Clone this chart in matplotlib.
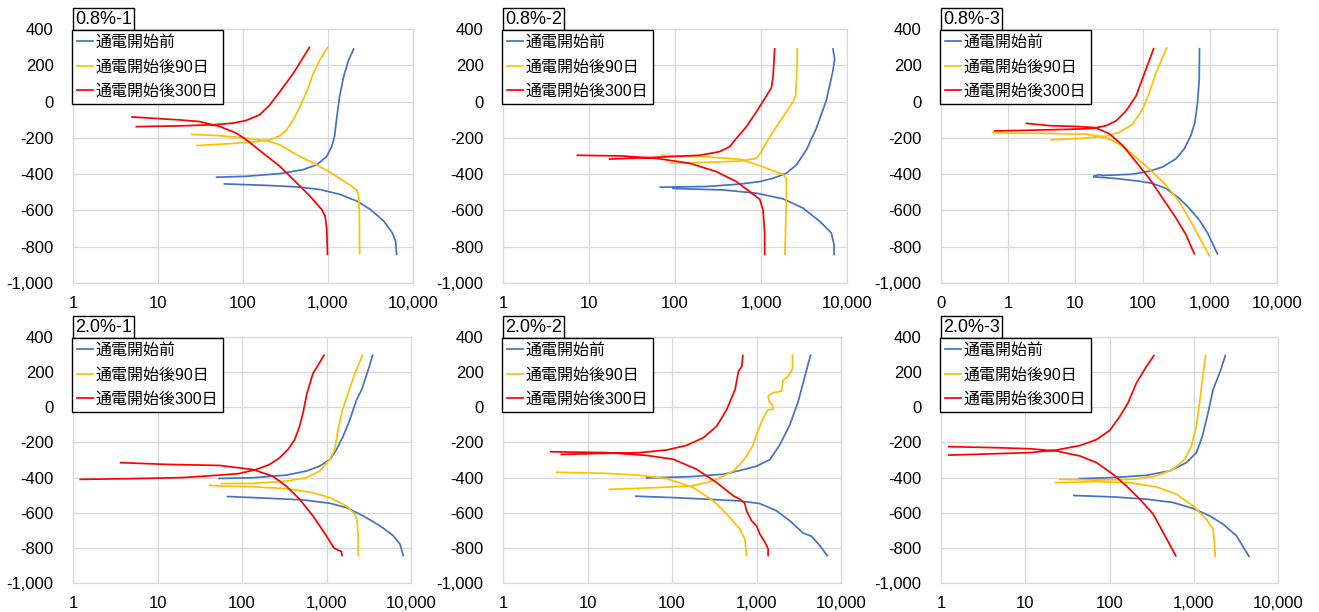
import numpy as np
import matplotlib
matplotlib.use("Agg")
import matplotlib.pyplot as plt
from matplotlib.ticker import FuncFormatter, FixedLocator, NullLocator
from matplotlib.lines import Line2D

plt.rcParams['font.family'] = ['Liberation Sans', 'Noto Sans CJK JP', 'DejaVu Sans']

NAN = np.nan
series_names = ["通電開始前", "通電開始後90日", "通電開始後300日"]
series_colors = ["#4472C4", "#FFC000", "#FF0000"]
panel_titles = ["0.8%-1", "0.8%-2", "0.8%-3", "2.0%-1", "2.0%-2", "2.0%-3"]
y_ticks = [-1000, -800, -600, -400, -200, 0, 200, 400]

# ---- Panel 0.8%-1 ----  (current density, potential mV); NaN separates cathodic / anodic branches
p1_before_i = [6412, 6237, 5693, 4539, 3155, 2194, 1393, 807, 428, 172, 60.7, NAN,
               49, 109, 272, 513, 738, 968, 1110, 1193, 1273, 1368, 1525, 1749, 2004]
p1_before_e = [-842, -769, -723, -659, -595, -549, -512, -485, -470, -461, -454, NAN,
               -417, -412, -397, -375, -348, -302, -247, -192, -82, 27, 137, 229, 289]
p1_d90_i = [2356, 2339, 2296, 2194, 1914, 1393, 968, 674, 428, 272, 189, 109, 53, 24.9, NAN,
            28.6, 69.5, 144, 207, 272, 326, 391, 469, 562, 674, 807, 986]
p1_d90_e = [-836, -631, -522, -489, -467, -426, -379, -339, -293, -238, -216, -201, -188, -181, NAN,
            -242, -232, -221, -210, -188, -156, -101, -27, 55, 156, 232, 298]
p1_d300_i = [986, 968, 925, 845, 615, 428, 272, 172, 109, 83.4, 53, 30.7, 17.8, 10.4, 4.94, NAN,
             5.56, 17.8, 44.2, 76.2, 109, 157, 207, 272, 391, 604]
p1_d300_e = [-842, -705, -631, -595, -522, -448, -357, -284, -210, -174, -137, -110, -101, -94, -85, NAN,
             -138, -134, -128, -119, -104, -73, -18, 55, 156, 298]

# ---- Panel 0.8%-2 ----
p2_before_i = [7058, 7058, 6574, 4808, 3076, 1803, 883, 361, 94.8, NAN,
               67.5, 231, 565, 965, 1380, 1972, 2577, 3365, 4396, 5750, 6873, 7190, 6873]
p2_before_e = [-843, -788, -724, -660, -587, -536, -505, -487, -479, NAN,
               -472, -468, -455, -441, -423, -395, -349, -267, -148, 7, 171, 235, 290]
p2_d90_i = [1900, 1972, 1972, 1803, 1380, 965, 565, 231, 69.4, NAN,
            88.3, 231, 565, 883, 1009, 1206, 1380, 1803, 2355, 2530, 2624, 2640]
p2_d90_e = [-843, -541, -423, -401, -381, -353, -318, -304, -296, NAN,
            -340, -335, -328, -313, -276, -212, -167, -84, -2, 34, 190, 290]
p2_d300_i = [1104, 1104, 1055, 965, 738, 517, 302, 148, 60.7, 24.8, 7.32, NAN,
             17.4, 60.7, 194, 330, 432, 517, 675, 883, 1104, 1320, 1380, 1443]
p2_d300_e = [-843, -724, -596, -538, -496, -441, -386, -340, -313, -300, -296, NAN,
             -317, -307, -296, -276, -249, -203, -139, -57, 16, 76, 135, 290]

# ---- Panel 0.8%-3 ----
p3_before_i = [1300, 925, 696, 494, 351, 223, 141, 89.7, 40.4, 18.9, NAN,
               18.9, 22.9, 25, 32.2, 71.4, 126, 199, 314, 417, 523, 600, 657, 696, 703]
p3_before_e = [-839, -724, -652, -588, -533, -479, -451, -439, -424, -415, NAN,
               -411, -402, -407, -406, -400, -384, -360, -315, -260, -187, -115, -5, 122, 291]
p3_d90_i = [979, 554, 351, 223, 141, 89.7, 56.9, 36.1, 22.9, 14.6, 3.71, 0.6, NAN,
            4.39, 12.9, 28.7, 45.3, 71.4, 100, 126, 158, 228]
p3_d90_e = [-848, -679, -551, -460, -388, -324, -260, -215, -191, -180, -176, -173, NAN,
            -211, -202, -191, -169, -124, -42, 49, 158, 295]
p3_d300_i = [587, 441, 314, 199, 126, 80, 50.7, 32.2, 20.4, 14.6, 3.71, 0.63, NAN,
             1.87, 4.15, 10.3, 20.4, 28.7, 40.4, 56.9, 80, 112, 146]
p3_d300_e = [-839, -733, -642, -533, -424, -333, -242, -178, -146, -150, -156, -162, NAN,
             -120, -133, -137, -144, -133, -106, -51, 31, 177, 291]

# ---- Panel 2.0%-1 ----
p4_before_i = [8110, 7396, 6166, 4285, 2717, 1722, 1091, 526, 211, 67.6, NAN,
               53.9, 134, 333, 576, 829, 1091, 1310, 1571, 1885, 2262, 2593, 2974, 3200, 3506]
p4_before_e = [-844, -778, -731, -674, -618, -571, -546, -527, -518, -508, NAN,
               -405, -401, -386, -363, -335, -298, -241, -166, -72, 41, 98, 183, 230, 296]
p4_d90_i = [2380, 2368, 2303, 2161, 1722, 1091, 691, 333, 134, 53.9, 41.6, NAN,
            57.1, 134, 333, 576, 829, 1091, 1250, 1370, 1543, 1800, 2161, 2666]
p4_d90_e = [-844, -731, -646, -608, -561, -514, -486, -463, -452, -448, -444, NAN,
            -434, -433, -420, -401, -363, -298, -241, -128, -15, 79, 192, 296]
p4_d300_i = [1527, 1500, 1228, 995, 691, 480, 333, 231, 134, 53.9, 12.7, 3.67, NAN,
             1.22, 5.13, 20.1, 53.9, 93, 147, 211, 278, 349, 419, 480, 526, 587, 691, 934]
p4_d300_e = [-844, -821, -802, -731, -618, -523, -448, -392, -354, -331, -325, -315, NAN,
             -410, -406, -400, -386, -377, -354, -326, -288, -241, -185, -109, -34, 79, 192, 296]

# ---- Panel 2.0%-2 ----
p5_before_i = [6860, 5623, 4477, 3561, 2479, 1724, 1095, 635, 258, 104, 37.4, NAN,
               50.1, 163, 406, 635, 1000, 1439, 1889, 2479, 3110, 3908, 4357]
p5_before_e = [-844, -787, -734, -716, -646, -589, -548, -533, -523, -514, -506, NAN,
               -402, -395, -381, -360, -335, -298, -213, -100, 32, 211, 296]
p5_d90_i = [762, 727, 635, 445, 309, 179, 86.4, 41.8, 16.8, 4.29, NAN,
            18.1, 65.8, 163, 258, 371, 534, 635, 762, 914, 982, 1095, 1198, 1290, 1373,
            1574, 1546, 1412, 1373, 1574, 1977, 2033, 2070, 2373, 2549, 2667, 2667]
p5_d90_e = [-844, -749, -693, -608, -533, -457, -406, -387, -376, -370, NAN,
            -467, -457, -448, -429, -400, -362, -326, -279, -213, -166, -109, -62, -34, -15,
            -11, 13, 32, 64, 83, 92, 126, 154, 177, 201, 220, 296]
p5_d300_i = [1373, 1373, 1255, 1095, 1000, 873, 762, 727, 635, 534, 339, 196, 104, 50.1, 16.8, 3.67, NAN,
             4.92, 16.8, 41.8, 86.4, 149, 235, 339, 445, 558, 612, 670, 689]
p5_d300_e = [-844, -806, -768, -721, -674, -646, -589, -546, -523, -504, -429, -353, -296, -274, -258, -253, NAN,
             -268, -262, -258, -243, -217, -173, -107, -12, 101, 205, 233, 294]

# ---- Panel 2.0%-3 ----
p6_before_i = [4529, 3206, 2228, 1549, 982, 569, 275, 110, 37.8, NAN,
               43.7, 110, 275, 519, 818, 1076, 1267, 1479, 1695, 2033, 2373]
p6_before_e = [-849, -731, -665, -618, -576, -542, -523, -510, -502, NAN,
               -406, -400, -387, -362, -315, -258, -164, -31, 101, 196, 294]
p6_d90_i = [1800, 1742, 1695, 1413, 982, 623, 361, 174, 70.1, 22.9, NAN,
            25.8, 70.1, 191, 361, 569, 782, 938, 1076, 1200, 1291, 1388]
p6_d90_e = [-849, -750, -694, -637, -561, -495, -453, -429, -423, -429, NAN,
            -410, -414, -410, -391, -353, -296, -221, -107, 63, 196, 294]
p6_d300_i = [612, 433, 330, 229, 159, 110, 70.1, 44.5, 23.5, 11.4, 4.57, 1.24, NAN,
             1.24, 4.57, 11.4, 23.5, 44.5, 70.1, 101, 133, 166, 209, 275, 336]
p6_d300_e = [-845, -712, -608, -523, -448, -381, -315, -277, -249, -236, -230, -224, NAN,
             -272, -264, -258, -243, -218, -184, -131, -51, 25, 139, 233, 294]

panels = [
    [(p1_before_i, p1_before_e), (p1_d90_i, p1_d90_e), (p1_d300_i, p1_d300_e)],
    [(p2_before_i, p2_before_e), (p2_d90_i, p2_d90_e), (p2_d300_i, p2_d300_e)],
    [(p3_before_i, p3_before_e), (p3_d90_i, p3_d90_e), (p3_d300_i, p3_d300_e)],
    [(p4_before_i, p4_before_e), (p4_d90_i, p4_d90_e), (p4_d300_i, p4_d300_e)],
    [(p5_before_i, p5_before_e), (p5_d90_i, p5_d90_e), (p5_d300_i, p5_d300_e)],
    [(p6_before_i, p6_before_e), (p6_d90_i, p6_d90_e), (p6_d300_i, p6_d300_e)],
]
x_mins = [1, 1, 0.1, 1, 1, 1]
x_max = 10000

W, H = 1319, 612
fig = plt.figure(figsize=(W / 100, H / 100), dpi=100)

# axes boxes in pixels: (left, top, right, bottom)
boxes = [(73, 29, 413, 283), (503, 29, 847, 283), (941, 29, 1277, 283),
         (73, 337, 411, 583), (503, 337, 841, 583), (941, 337, 1278, 583)]

grid_c = "#D9D9D9"
fmt = FuncFormatter(lambda v, p: f"{v:,.0f}")

for k, (l, t, r, b) in enumerate(boxes):
    ax = fig.add_axes([l / W, 1 - b / H, (r - l) / W, (b - t) / H])
    ax.set_xscale('log')
    ax.set_xlim(x_mins[k], x_max)
    ax.set_ylim(-1000, 400)
    xt = [10.0 ** e for e in range(int(round(np.log10(x_mins[k]))), 5)]
    ax.xaxis.set_major_locator(FixedLocator(xt))
    ax.xaxis.set_minor_locator(NullLocator())
    ax.xaxis.set_major_formatter(fmt)
    ax.yaxis.set_major_locator(FixedLocator(y_ticks))
    ax.yaxis.set_major_formatter(fmt)
    ax.tick_params(axis='both', length=0, labelsize=12, colors='black')
    ax.tick_params(axis='y', pad=14)
    ax.tick_params(axis='x', pad=9)
    ax.grid(True, color=grid_c, lw=0.9)
    ax.set_axisbelow(True)
    for s in ax.spines.values():
        s.set_color(grid_c)
        s.set_linewidth(0.9)
    for (xs, ys), c in zip(panels[k], series_colors):
        ax.plot(xs, ys, color=c, lw=1.25)
    handles = [Line2D([], [], color=c, lw=1.25) for c in series_colors]
    leg = fig.legend(handles, series_names, loc='upper left',
                     bbox_to_anchor=((l - 1) / W, 1 - (t + 1) / H),
                     fontsize=11.5, frameon=True, fancybox=False,
                     edgecolor='black', handlelength=1.0, handletextpad=0.17,
                     borderpad=0.3, labelspacing=0.6, borderaxespad=0.0)
    leg.get_frame().set_linewidth(1.0)
    leg.get_frame().set_alpha(1)
    fig.text((l + 2) / W, 1 - (t - 10) / H, panel_titles[k], fontsize=13,
             ha='left', va='center',
             bbox=dict(boxstyle='square,pad=0.12', fc='white', ec='black', lw=1.0))

fig.savefig("out.png", dpi=100)
